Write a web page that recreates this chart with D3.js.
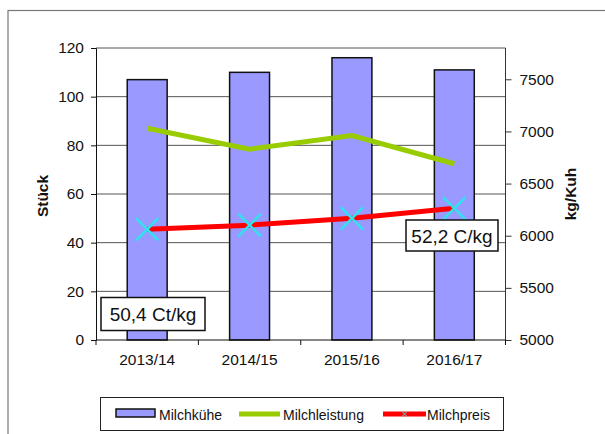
<!DOCTYPE html>
<html>
<head>
<meta charset="utf-8">
<script src="https://cdn.jsdelivr.net/npm/d3@7"></script>
<style>
	body { margin: 0; background: #fff; }
	text { font-family: "Liberation Sans", Arial, sans-serif; fill: #111; }
</style>
</head>
<body>
<svg id="chart" width="605" height="434"></svg>
<script>
let categories = ["2013/14", "2014/15", "2015/16", "2016/17"];
let milchkuehe = [107, 110, 116, 111];
let milchleistung = [7030, 6830, 6960, 6690];
let milchpreis = [45.5, 47.2, 50.0, 54.1];
let leftTicks = [0, 20, 40, 60, 80, 100, 120];
let rightTicks = [5000, 5500, 6000, 6500, 7000, 7500];
let seriesNames = ["Milchkühe", "Milchleistung", "Milchpreis"];
let priceLabels = ["50,4 Ct/kg", "52,2 C/kg"];

function drawChart(holder){
	let margin = {"left": 96, "top": 48, "right": 100, "bottom": 94};
	let width = 605;
	let height = 434;

	let svg = d3.select(holder);

	// outer frame (runs off the right/bottom edge like the screenshot)
	svg.append("rect")
		.attr("x", 8).attr("y", 10.5)
		.attr("width", 620).attr("height", 440)
		.attr("fill", "none")
		.attr("stroke", "#777")
		.attr("stroke-width", 1.2);

	let scaleX = d3.scaleBand()
		.domain(categories)
		.range([margin.left, width - margin.right + 0.5])
		.paddingInner(0.61)
		.paddingOuter(0.305);

	let scaleY = d3.scaleLinear()
		.domain([0, 120])
		.range([height - margin.bottom, margin.top]);

	let scaleY2 = d3.scaleLinear()
		.domain([5000, 7800])
		.range([height - margin.bottom, margin.top]);

	let x0 = margin.left, x1 = width - margin.right + 0.5;
	let bandStep = (x1 - x0) / categories.length;
	let centre = c => scaleX(c) + scaleX.bandwidth() / 2;

	// gridlines
	svg.append("g").selectAll("line")
		.data(leftTicks.slice(1))
		.join("line")
		.attr("x1", x0).attr("x2", x1)
		.attr("y1", d => scaleY(d)).attr("y2", d => scaleY(d))
		.attr("stroke", "#555").attr("stroke-width", 1);

	svg.append("line")
		.attr("x1", x1).attr("x2", x1)
		.attr("y1", scaleY(120)).attr("y2", scaleY(0))
		.attr("stroke", "#777");

	// bars
	svg.append("g").selectAll("rect")
		.data(milchkuehe)
		.join("rect")
		.attr("x", (d, i) => scaleX(categories[i]))
		.attr("y", d => scaleY(d))
		.attr("width", scaleX.bandwidth())
		.attr("height", d => scaleY(0) - scaleY(d))
		.attr("fill", "#9999FF")
		.attr("stroke", "#111")
		.attr("stroke-width", 1.5);

	// left axis
	let axisL = d3.axisLeft(scaleY).tickValues(leftTicks).tickSize(5).tickPadding(7);
	svg.append("g")
		.attr("transform", "translate(" + x0 + ",0)")
		.call(axisL)
		.call(g => g.selectAll("text").attr("font-size", 15.5).attr("fill", "#111").style("font-family", "Liberation Sans, Arial"))
		.call(g => g.selectAll("line, path").attr("stroke", "#111"));

	// right axis
	let axisR = d3.axisRight(scaleY2).tickValues(rightTicks).tickSize(6).tickPadding(8).tickFormat(d3.format("d"));
	svg.append("g")
		.attr("transform", "translate(" + x1 + ",0)")
		.call(axisR)
		.call(g => g.select(".domain").attr("d", "M0," + scaleY2.range()[1] + "V" + scaleY2.range()[0]))
		.call(g => g.selectAll("text").attr("font-size", 15.5).attr("fill", "#111").style("font-family", "Liberation Sans, Arial"))
		.call(g => g.selectAll("line, path").attr("stroke", "#333"));

	// bottom axis: ticks at category boundaries
	let axisB = svg.append("g");
	axisB.append("line")
		.attr("x1", x0).attr("x2", x1)
		.attr("y1", scaleY(0)).attr("y2", scaleY(0))
		.attr("stroke", "#111").attr("stroke-width", 1.2);
	axisB.selectAll("line.tk")
		.data(d3.range(categories.length + 1))
		.join("line")
		.attr("class", "tk")
		.attr("x1", i => x0 + i * bandStep).attr("x2", i => x0 + i * bandStep)
		.attr("y1", scaleY(0)).attr("y2", scaleY(0) + 5)
		.attr("stroke", "#111");
	axisB.selectAll("text")
		.data(categories)
		.join("text")
		.attr("x", d => centre(d))
		.attr("y", scaleY(0) + 25)
		.attr("text-anchor", "middle")
		.attr("font-size", 15.5)
		.text(d => d);

	// axis titles
	svg.append("text")
		.attr("transform", "translate(48,196) rotate(-90)")
		.attr("text-anchor", "middle")
		.attr("font-size", 15.5)
		.attr("font-weight", "bold")
		.text("Stück");
	svg.append("text")
		.attr("transform", "translate(576,194) rotate(-90)")
		.attr("text-anchor", "middle")
		.attr("font-size", 15.5)
		.attr("font-weight", "bold")
		.text("kg/Kuh");

	// Milchleistung line
	let lineL = d3.line()
		.x((d, i) => centre(categories[i]))
		.y(d => scaleY2(d));
	svg.append("path")
		.attr("d", lineL(milchleistung))
		.attr("fill", "none")
		.attr("stroke", "#99CC00")
		.attr("stroke-width", 5);

	// Milchpreis line
	let lineP = d3.line()
		.x((d, i) => centre(categories[i]))
		.y(d => scaleY(d));
	svg.append("path")
		.attr("d", lineP(milchpreis))
		.attr("fill", "none")
		.attr("stroke", "#FF0000")
		.attr("stroke-width", 5);

	let cross = d3.symbol().type(d3.symbolX).size(330);
	svg.append("g").selectAll("path")
		.data(milchpreis)
		.join("path")
		.attr("transform", (d, i) => "translate(" + centre(categories[i]) + "," + scaleY(d) + ")")
		.attr("d", cross)
		.attr("fill", "none")
		.attr("stroke", "#33E0EE")
		.attr("stroke-width", 2.5);

	// annotation boxes
	let boxes = [
		{"text": priceLabels[0], "x": 101, "y": 297.5, "w": 104, "h": 33},
		{"text": priceLabels[1], "x": 406, "y": 220, "w": 92, "h": 31}
	];
	let ann = svg.append("g").selectAll("g")
		.data(boxes)
		.join("g");
	ann.append("rect")
		.attr("x", d => d.x).attr("y", d => d.y)
		.attr("width", d => d.w).attr("height", d => d.h)
		.attr("fill", "#fff")
		.attr("stroke", "#111")
		.attr("stroke-width", 1.5);
	ann.append("text")
		.attr("x", d => d.x + d.w / 2)
		.attr("y", d => d.y + d.h / 2 + 7)
		.attr("text-anchor", "middle")
		.attr("font-size", 19)
		.text(d => d.text);

	// legend
	let leg = svg.append("g");
	leg.append("rect")
		.attr("x", 100.5).attr("y", 397.5)
		.attr("width", 403).attr("height", 33)
		.attr("fill", "#fff")
		.attr("stroke", "#222")
		.attr("stroke-width", 1);
	leg.append("rect")
		.attr("x", 116).attr("y", 409)
		.attr("width", 39).attr("height", 8)
		.attr("fill", "#9999FF")
		.attr("stroke", "#111")
		.attr("stroke-width", 1.5);
	leg.append("line")
		.attr("x1", 239).attr("x2", 280)
		.attr("y1", 414).attr("y2", 414)
		.attr("stroke", "#99CC00").attr("stroke-width", 5);
	leg.append("line")
		.attr("x1", 383).attr("x2", 426)
		.attr("y1", 414).attr("y2", 414)
		.attr("stroke", "#FF0000").attr("stroke-width", 5);
	leg.append("path")
		.attr("transform", "translate(404.5,414)")
		.attr("d", d3.symbol().type(d3.symbolX).size(20))
		.attr("fill", "none")
		.attr("stroke", "#33E0EE")
		.attr("stroke-width", 1);
	leg.selectAll("text")
		.data(seriesNames)
		.join("text")
		.attr("x", (d, i) => [159, 283, 427][i])
		.attr("y", 420)
		.attr("font-size", 14)
		.text(d => d);
}

drawChart("#chart");
</script>
</body>
</html>
